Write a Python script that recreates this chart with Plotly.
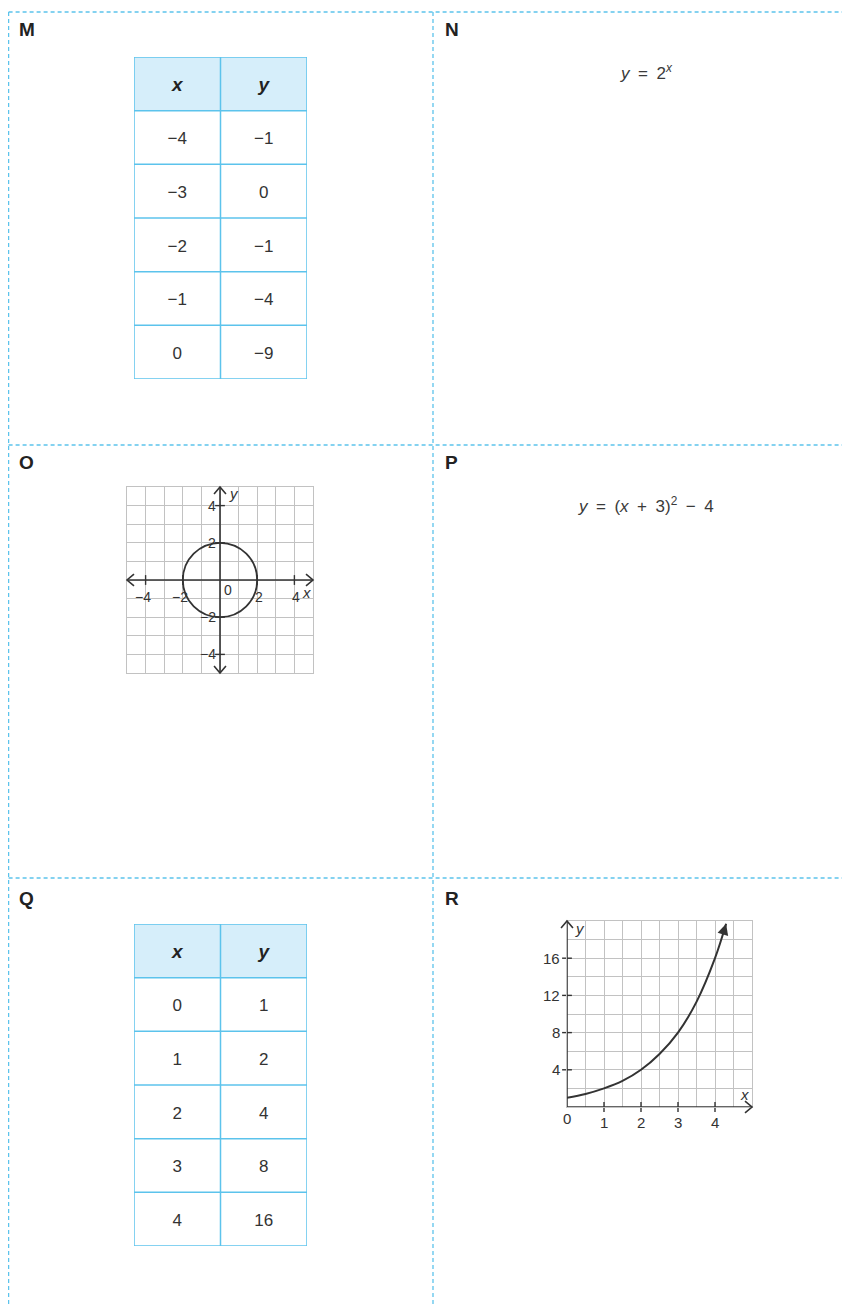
import plotly.graph_objects as go

# page body adds an 8px margin, so the figure is drawn 8px smaller and offset
OFF = 8
W, H = 850 - OFF, 1307 - OFF

# card contents
card_labels = ["M", "N", "O", "P", "Q", "R"]
m_x = ["−4", "−3", "−2", "−1", "0"]
m_y = ["−1", "0", "−1", "−4", "−9"]
q_x = ["0", "1", "2", "3", "4"]
q_y = ["1", "2", "4", "8", "16"]
n_formula = "<i>y</i>\u2002=\u20022<sup><i>x</i></sup>"
p_formula = "<i>y</i>\u2002=\u2002(<i>x</i>\u2002+\u20023)<sup>2</sup>\u2002−\u20024"

# card O: circle graph
o_center = [0, 0]
o_radius = 2
o_ticks = [-4, -2, 2, 4]
o_tick_text = ["−4", "−2", "2", "4"]

# card R: exponential curve
r_curve_x = [0, 0.5, 1, 1.5, 2, 2.5, 3, 3.5, 4, 4.3]
r_curve_y = [1, 1.4, 2, 2.8, 4, 5.7, 8, 11.3, 16, 19.7]
r_xticks = [1, 2, 3, 4]
r_yticks = [4, 8, 12, 16]

INK = "#333333"
BLUE = "#5cc3ec"
HEAD = "#d6eefa"
GRID = "#c2c2c2"
FONT = "Liberation Sans, Arial, sans-serif"


def fx(p):
    return (p - OFF) / W


def fy(p):
    return 1 - (p - OFF) / H


fig = go.Figure()
shapes = []
annotations = []

# dashed card borders
dash = dict(color=BLUE, width=1.3, dash="4px,3px")
for y in [12, 445, 878]:
    shapes.append(dict(type="line", xref="paper", yref="paper", x0=fx(8.6), x1=1,
                       y0=fy(y), y1=fy(y), line=dash))
for x in [8.6, 433]:
    shapes.append(dict(type="line", xref="paper", yref="paper", x0=fx(x), x1=fx(x),
                       y0=fy(12), y1=0, line=dash))

# card letters
label_pos = [(17, 30), (443, 30), (17, 462), (443, 462), (17, 898), (443, 898)]
for lab, (x, y) in zip(card_labels, label_pos):
    annotations.append(dict(text="<b>%s</b>" % lab, xref="paper", yref="paper",
                            x=fx(x), y=fy(y), xanchor="left", yanchor="middle",
                            showarrow=False, font=dict(size=19, color="#222", family=FONT)))

# formulas
for txt, y in [(n_formula, 72), (p_formula, 505)]:
    annotations.append(dict(text=txt, xref="paper", yref="paper", x=fx(646), y=fy(y),
                            xanchor="center", yanchor="middle", showarrow=False,
                            font=dict(size=17, color="#3a3a3a", family=FONT)))


def hidden_axis(domain, rng, anchor):
    return dict(domain=domain, range=rng, visible=False, fixedrange=True, anchor=anchor)


def add_table(n, xs, ys, top, bottom):
    xa, ya = "x%d" % n, "y%d" % n
    rows = len(xs) + 1
    fig.update_layout(**{
        "xaxis%d" % n: hidden_axis([fx(134), fx(307)], [0, 2], ya),
        "yaxis%d" % n: hidden_axis([fy(bottom), fy(top)], [rows, 0], xa),
    })
    shapes.append(dict(type="rect", xref=xa, yref=ya, x0=0, x1=2, y0=0, y1=1,
                       fillcolor=HEAD, line=dict(width=0), layer="below"))
    for r in range(rows + 1):
        shapes.append(dict(type="line", xref=xa, yref=ya, x0=0, x1=2, y0=r, y1=r,
                           line=dict(color=BLUE, width=1.5)))
    for c in range(3):
        shapes.append(dict(type="line", xref=xa, yref=ya, x0=c, x1=c, y0=0, y1=rows,
                           line=dict(color=BLUE, width=1.5)))
    fig.add_trace(go.Scatter(
        x=[0.5, 1.5], y=[0.55, 0.55], text=["<b><i>x</i></b>", "<b><i>y</i></b>"],
        mode="text", textfont=dict(size=19, color="#222", family=FONT),
        xaxis=xa, yaxis=ya, hoverinfo="skip", showlegend=False))
    fig.add_trace(go.Scatter(
        x=[0.5] * len(xs) + [1.5] * len(ys),
        y=[i + 1.55 for i in range(len(xs))] * 2,
        text=xs + ys, mode="text", textfont=dict(size=17, color="#333", family=FONT),
        xaxis=xa, yaxis=ya, hoverinfo="skip", showlegend=False))


add_table(2, m_x, m_y, 57, 379)
add_table(3, q_x, q_y, 924, 1246)


def grid_axis(domain, rng, step, anchor):
    return dict(domain=domain, range=rng, dtick=step, tick0=0, showgrid=True,
                gridcolor=GRID, gridwidth=1, zeroline=False, showticklabels=False,
                ticks="", showline=True, mirror=True, linecolor=GRID, linewidth=1,
                fixedrange=True, anchor=anchor)


def add_chevrons(tips, box, rng, arm=7):
    # open arrow heads as paper shapes (not clipped by the plot area)
    left, top, right, bottom = box
    (x0, x1), (y0, y1) = rng
    for tx, ty, ux, uy in tips:
        px = left + (tx - x0) / (x1 - x0) * (right - left)
        py = bottom - (ty - y0) / (y1 - y0) * (bottom - top)
        dx, dy = ux, -uy
        pts = []
        for s in (1, -1):
            pts.append((px + arm * (-dx + 0.85 * s * -dy), py + arm * (-dy + 0.85 * s * dx)))
        path = "M %f,%f L %f,%f L %f,%f" % (
            fx(pts[0][0]), fy(pts[0][1]), fx(px), fy(py), fx(pts[1][0]), fy(pts[1][1]))
        shapes.append(dict(type="path", xref="paper", yref="paper", path=path,
                           line=dict(color=INK, width=1.6)))


def line_trace(x, y, xa, ya, width=1.6):
    return go.Scatter(x=x, y=y, mode="lines", line=dict(color=INK, width=width),
                      xaxis=xa, yaxis=ya, hoverinfo="skip", showlegend=False)


def axis_note(txt, x, y, xa, ya, dx=0, dy=0, xanchor="center", yanchor="middle",
              italic=False, size=14):
    if italic:
        txt = "<i>%s</i>" % txt
    annotations.append(dict(text=txt, xref=xa, yref=ya, x=x, y=y, xshift=dx, yshift=dy,
                            xanchor=xanchor, yanchor=yanchor, showarrow=False,
                            font=dict(size=size, color="#333", family=FONT)))


def tick_marks(x, y, symbol, xa, ya):
    return go.Scatter(x=x, y=y, mode="markers", xaxis=xa, yaxis=ya, cliponaxis=False,
                      marker=dict(symbol=symbol, size=7, line=dict(color=INK, width=1.4)),
                      hoverinfo="skip", showlegend=False)


# ---- card O
o_box = (127, 487, 313, 673)
o_rng = ([-5, 5], [-5, 5])
fig.update_layout(
    xaxis4=grid_axis([fx(o_box[0]), fx(o_box[2])], o_rng[0], 1, "y4"),
    yaxis4=grid_axis([fy(o_box[3]), fy(o_box[1])], o_rng[1], 1, "x4"),
)
fig.add_trace(line_trace([-5, 5], [0, 0], "x4", "y4"))
fig.add_trace(line_trace([0, 0], [-5, 5], "x4", "y4"))
add_chevrons([(-5, 0, -1, 0), (5, 0, 1, 0), (0, 5, 0, 1), (0, -5, 0, -1)], o_box, o_rng)
fig.add_trace(tick_marks(o_ticks, [0] * 4, "line-ns", "x4", "y4"))
fig.add_trace(tick_marks([0] * 4, o_ticks, "line-ew", "x4", "y4"))
shapes.append(dict(type="circle", xref="x4", yref="y4",
                   x0=o_center[0] - o_radius, x1=o_center[0] + o_radius,
                   y0=o_center[1] - o_radius, y1=o_center[1] + o_radius,
                   line=dict(color=INK, width=1.8)))
for v, t in zip(o_ticks, o_tick_text):
    axis_note(t, v, 0, "x4", "y4", dx=(2 if v > 0 else -3), dy=-17)
    axis_note(t, 0, v, "x4", "y4", dx=-2, xanchor="right")
axis_note("0", 0, 0, "x4", "y4", dx=8, dy=-10)
axis_note("x", 5, 0, "x4", "y4", dx=-7, dy=-12, italic=True, size=15)
axis_note("y", 0, 5, "x4", "y4", dx=14, dy=-7, italic=True, size=15)

# ---- card R
r_box = (567, 921, 752, 1107)
r_rng = ([0, 5], [0, 20])
fig.update_layout(
    xaxis5=grid_axis([fx(r_box[0]), fx(r_box[2])], r_rng[0], 0.5, "y5"),
    yaxis5=grid_axis([fy(r_box[3]), fy(r_box[1])], r_rng[1], 2, "x5"),
)
fig.add_trace(line_trace([0, 5], [0, 0], "x5", "y5"))
fig.add_trace(line_trace([0, 0], [0, 20], "x5", "y5"))
add_chevrons([(5, 0, 1, 0), (0, 20, 0, 1)], r_box, r_rng)
fig.add_trace(tick_marks(r_xticks, [0] * 4, "line-ns", "x5", "y5"))
fig.add_trace(tick_marks([0] * 4, r_yticks, "line-ew", "x5", "y5"))
fig.add_trace(go.Scatter(x=r_curve_x, y=r_curve_y, mode="lines", xaxis="x5", yaxis="y5",
                         line=dict(color=INK, width=2, shape="spline"),
                         hoverinfo="skip", showlegend=False))
annotations.append(dict(x=r_curve_x[-1], y=r_curve_y[-1], ax=4.2, ay=18.4,
                        xref="x5", yref="y5", axref="x5", ayref="y5", text="",
                        showarrow=True, arrowhead=2, arrowsize=1.1, arrowwidth=2,
                        arrowcolor=INK, standoff=0))
for v in r_xticks:
    axis_note(str(v), v, 0, "x5", "y5", dy=-15, size=15)
for v in r_yticks:
    axis_note(str(v), 0, v, "x5", "y5", dx=-5, xanchor="right", size=15)
axis_note("0", 0, 0, "x5", "y5", dy=-11, size=15)
axis_note("x", 5, 0, "x5", "y5", dx=-8, dy=13, italic=True, size=15)
axis_note("y", 0, 20, "x5", "y5", dx=13, dy=-7, italic=True, size=15)

fig.update_layout(
    width=W, height=H,
    margin=dict(l=0, r=0, t=0, b=0),
    paper_bgcolor="white", plot_bgcolor="rgba(0,0,0,0)",
    xaxis=dict(visible=False), yaxis=dict(visible=False),
    shapes=shapes, annotations=annotations,
    showlegend=False, font=dict(family=FONT),
)

fig.write_html("out.html")
